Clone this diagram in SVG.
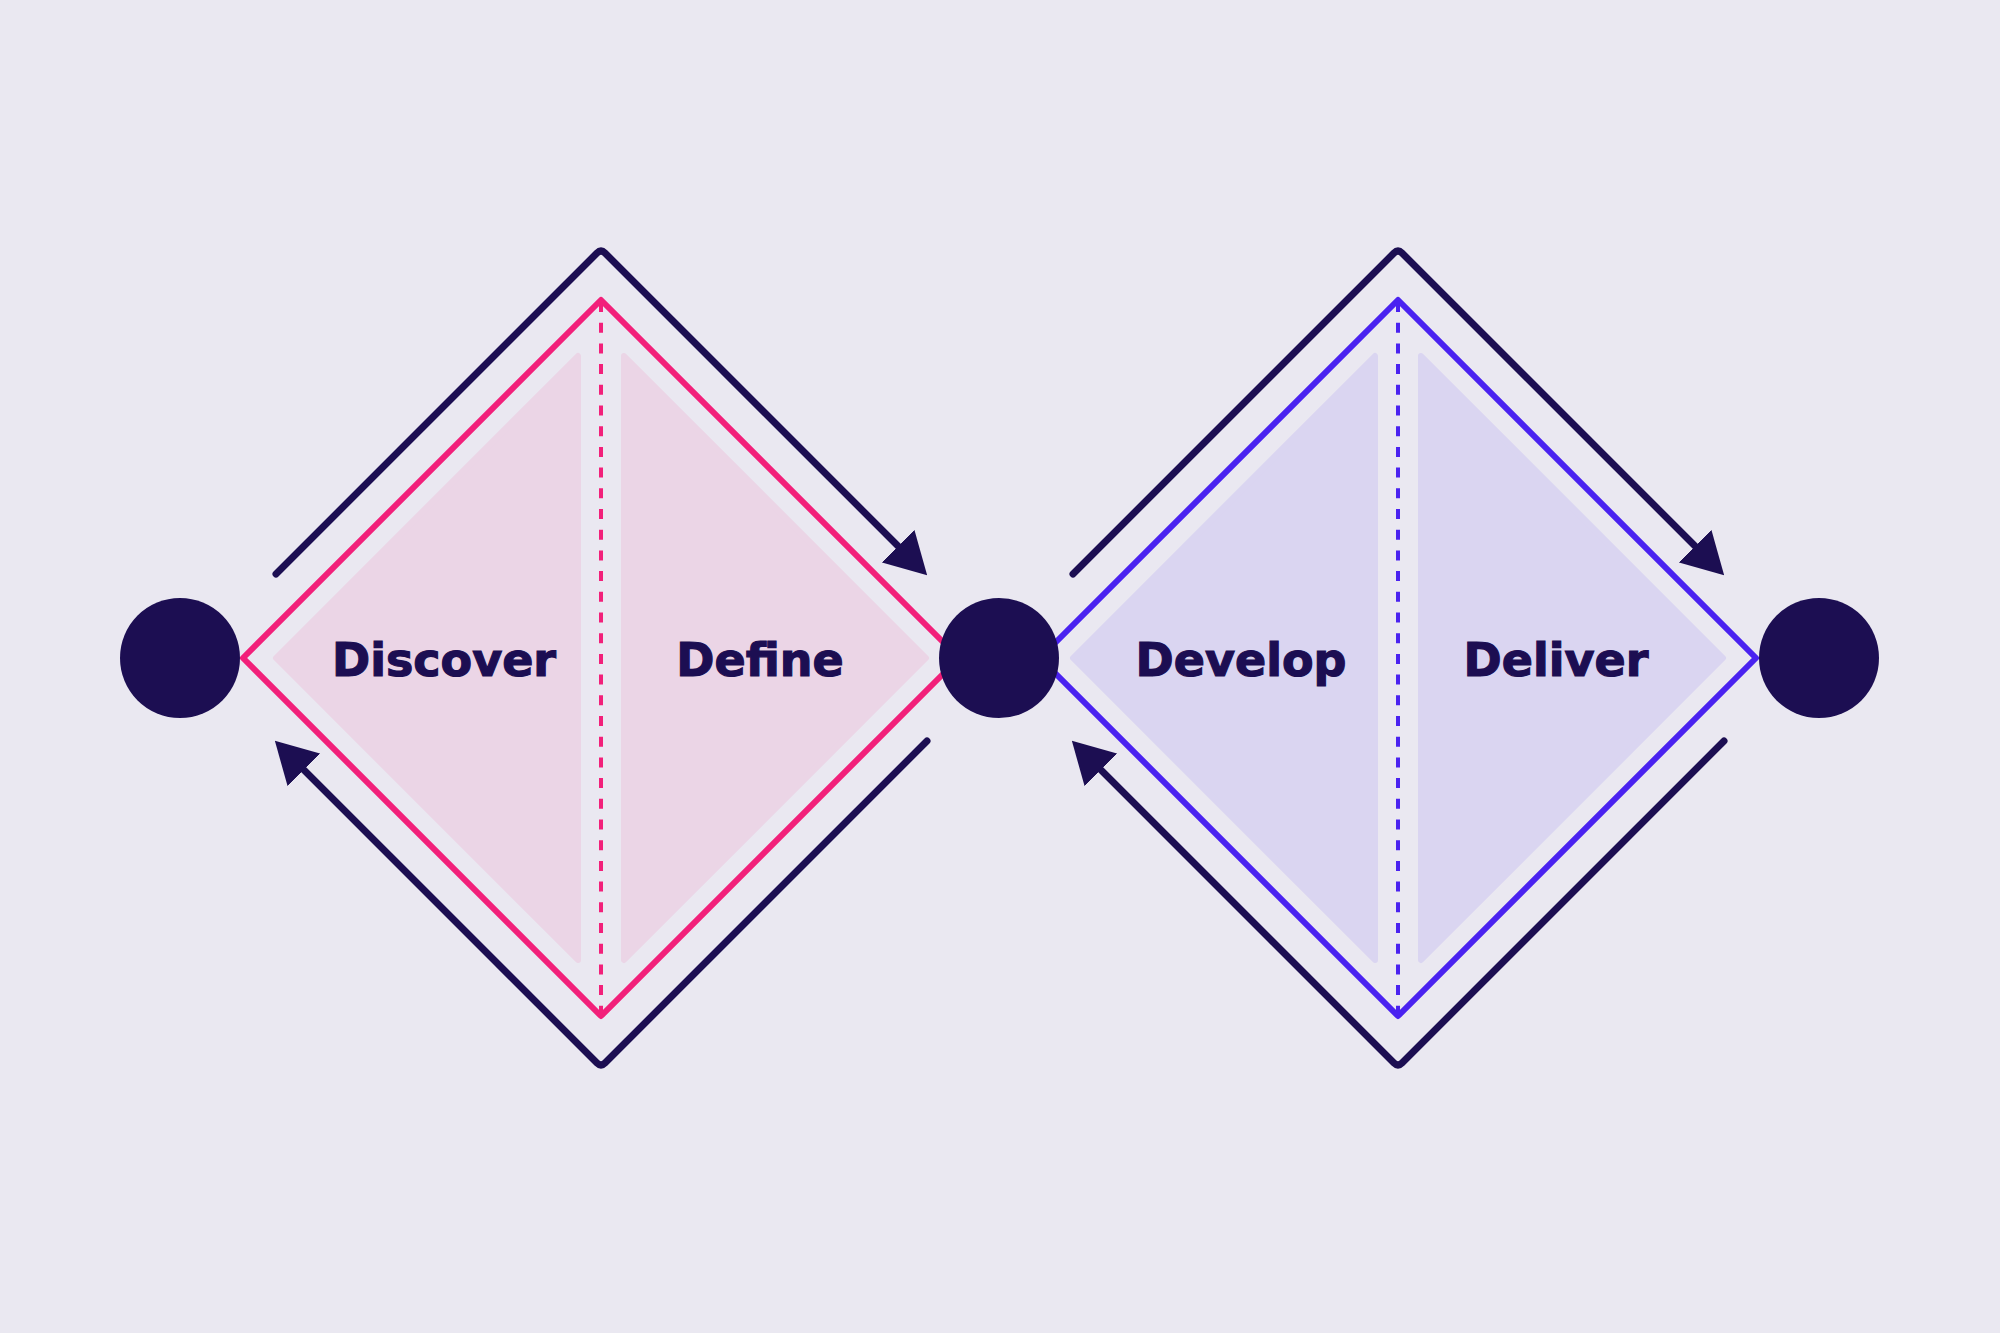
<svg xmlns="http://www.w3.org/2000/svg" width="2000" height="1333" viewBox="0 0 2000 1333">
  <style>
    .bg { fill: #EAE8F1; }
    .fillPink { fill: #EBD5E6; stroke: #EBD5E6; stroke-width: 6; stroke-linejoin: round; }
    .fillBlue { fill: #DAD5F1; stroke: #DAD5F1; stroke-width: 6; stroke-linejoin: round; }
    .linePink { fill: none; stroke: #F2207A; stroke-width: 6; stroke-linejoin: round; }
    .lineBlue { fill: none; stroke: #4A22F0; stroke-width: 6; stroke-linejoin: round; }
    .dashPink { fill: none; stroke: #F2207A; stroke-width: 4; stroke-dasharray: 10 10.7; }
    .dashBlue { fill: none; stroke: #4A22F0; stroke-width: 4; stroke-dasharray: 10 10.7; }
    .flow { fill: none; stroke: #1C0E52; stroke-width: 7; stroke-linejoin: round; stroke-linecap: round; marker-end: url(#arrow); }
    .dot { fill: #1C0E52; }
    .label { font-family: "DejaVu Sans", "Liberation Sans", sans-serif; font-weight: bold; font-size: 46px; fill: #1C0E52; stroke: #1C0E52; stroke-width: 1.2; text-anchor: middle; }
  </style>
  <defs>
    <marker id="arrow" markerUnits="userSpaceOnUse" viewBox="0 0 41 46" markerWidth="41" markerHeight="46" refX="21" refY="23" orient="auto">
      <path d="M0,0 L41,23 L0,46 Z" fill="#1C0E52"/>
    </marker>
  </defs>
  <rect class="bg" x="0" y="0" width="2000" height="1333"/>

  <g id="diamond-1">
    <polygon class="fillPink" points="276,658 578,356 578,960"/>
    <polygon class="fillPink" points="624,356 926,658 624,960"/>
    <polygon class="linePink" points="601,300 959,658 601,1016 243,658"/>
    <line class="dashPink" x1="601" y1="302" x2="601" y2="1014"/>
  </g>
  <g id="diamond-2">
    <polygon class="fillBlue" points="1073,658 1375,356 1375,960"/>
    <polygon class="fillBlue" points="1421,356 1723,658 1421,960"/>
    <polygon class="lineBlue" points="1398,300 1756,658 1398,1016 1040,658"/>
    <line class="dashBlue" x1="1398" y1="302" x2="1398" y2="1014"/>
  </g>

  <g id="connectors">
    <path class="flow" d="M276,574 L597,253 Q601,249 605,253 L913,561"/>
    <path class="flow" d="M927,741 L605,1063 Q601,1067 597,1063 L289,755"/>
    <path class="flow" d="M1073,574 L1394,253 Q1398,249 1402,253 L1710,561"/>
    <path class="flow" d="M1724,741 L1402,1063 Q1398,1067 1394,1063 L1086,755"/>
  </g>

  <g id="node-start"><circle class="dot" cx="180" cy="658" r="60"/></g>
  <g id="node-middle"><circle class="dot" cx="999" cy="658" r="60"/></g>
  <g id="node-end"><circle class="dot" cx="1819" cy="658" r="60"/></g>

  <g id="label-discover"><text class="label" x="444" y="676">Discover</text></g>
  <g id="label-define"><text class="label" x="760" y="676">Define</text></g>
  <g id="label-develop"><text class="label" x="1241" y="676">Develop</text></g>
  <g id="label-deliver"><text class="label" x="1556" y="676">Deliver</text></g>
</svg>
